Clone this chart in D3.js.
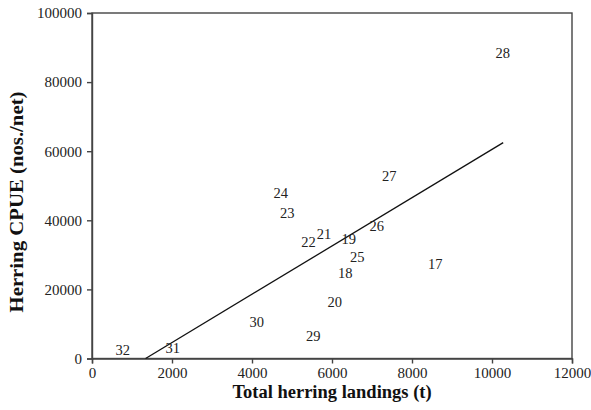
<!DOCTYPE html>
<html lang="en">
	<head>
		<meta charset="utf-8">
		<title>Herring CPUE vs landings</title>
		<script type="text/javascript" src="https://cdn.jsdelivr.net/npm/d3@7"></script>
		<style type="text/css">
			* { margin: 0; padding: 0; }
			body { background-color: white; }
			svg { display: block; }
			.axis path, .axis line { stroke: #444; stroke-width: 1.4; }
			.axis text { font-family: "Liberation Serif", "Times New Roman", serif; font-size: 15px; fill: #222; }
			.lbl { font-family: "Liberation Serif", "Times New Roman", serif; font-size: 14.5px; fill: #222; }
			.title { font-family: "Liberation Serif", "Times New Roman", serif; font-size: 18.5px; font-weight: bold; fill: #111; }
		</style>
	</head>
	<body>
		<script type="text/javascript">

			//data: year labels, landings (t), CPUE (nos./net)
			var years = ["17", "18", "19", "20", "21", "22", "23", "24", "25", "26", "27", "28", "29", "30", "31", "32"];
			var landings = [8580, 6330, 6420, 6070, 5800, 5410, 4880, 4720, 6630, 7120, 7430, 10270, 5530, 4120, 2020, 770];
			var cpue = [27400, 24800, 34500, 16400, 36000, 33600, 42200, 48000, 29500, 38400, 52800, 88300, 6500, 10500, 3100, 2500];

			//fitted line
			var fitSlope = 6.99;
			var fitIntercept = -9370;
			var fitRange = [1340, 10280];

			var xTicks = [0, 2000, 4000, 6000, 8000, 10000, 12000];
			var yTicks = [0, 20000, 40000, 60000, 80000, 100000];

			var w = 591, h = 410;
			var plotLeft = 92, plotRight = 572, plotTop = 13, plotBottom = 358.5;

			var svg = d3.select("body").append("svg")
				.attr("width", w)
				.attr("height", h);

			var x = d3.scaleLinear().domain([0, 12000]).range([plotLeft, plotRight]);
			var y = d3.scaleLinear().domain([0, 100000]).range([plotBottom, plotTop]);

			//box
			svg.append("rect")
				.attr("x", plotLeft).attr("y", plotTop)
				.attr("width", plotRight - plotLeft).attr("height", plotBottom - plotTop)
				.attr("fill", "none")
				.attr("stroke", "#444")
				.attr("stroke-width", 1.4);

			svg.append("g")
				.attr("class", "axis")
				.attr("transform", "translate(0," + plotBottom + ")")
				.call(d3.axisBottom(x).tickValues(xTicks).tickFormat(d3.format("d")).tickSizeOuter(0).tickSize(5).tickPadding(4));

			svg.append("g")
				.attr("class", "axis")
				.attr("transform", "translate(" + plotLeft + ",0)")
				.call(d3.axisLeft(y).tickValues(yTicks).tickFormat(d3.format("d")).tickSizeOuter(0).tickSize(5).tickPadding(5));

			//regression line
			svg.append("line")
				.attr("x1", x(fitRange[0]))
				.attr("y1", y(fitIntercept + fitSlope * fitRange[0]))
				.attr("x2", x(fitRange[1]))
				.attr("y2", y(fitIntercept + fitSlope * fitRange[1]))
				.attr("stroke", "#111")
				.attr("stroke-width", 1.3);

			//point labels
			svg.append("g")
				.selectAll("text")
				.data(years)
				.enter().append("text")
				.attr("class", "lbl")
				.attr("x", function(d, i) { return x(landings[i]); })
				.attr("y", function(d, i) { return y(cpue[i]); })
				.attr("dy", "0.35em")
				.attr("text-anchor", "middle")
				.text(function(d) { return d; });

			//axis titles
			svg.append("text")
				.attr("class", "title")
				.attr("x", 332)
				.attr("y", 398)
				.attr("text-anchor", "middle")
				.text("Total herring landings (t)");

			svg.append("text")
				.attr("class", "title")
				.attr("transform", "translate(23,202) rotate(-90)")
				.attr("text-anchor", "middle")
				.attr("textLength", 221)
				.attr("lengthAdjust", "spacingAndGlyphs")
				.text("Herring CPUE (nos./net)");

		</script>
	</body>
</html>
